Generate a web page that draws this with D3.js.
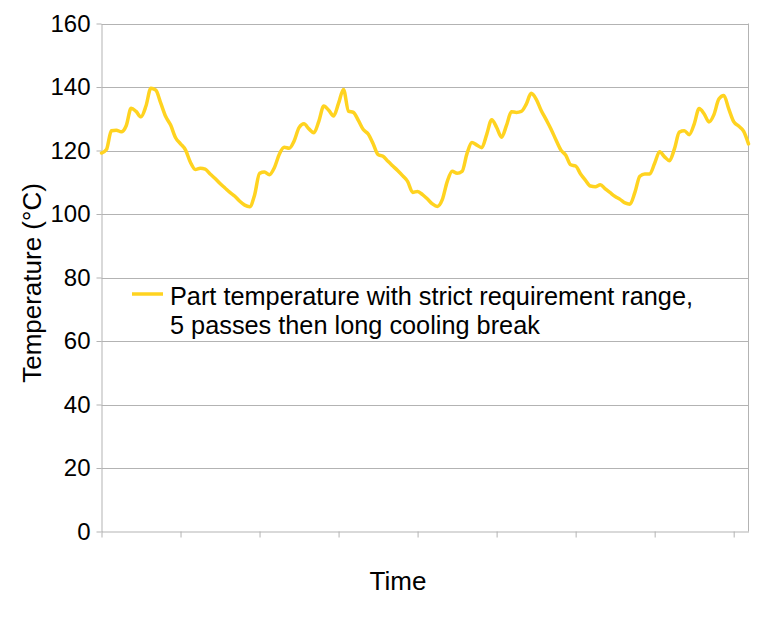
<!DOCTYPE html>
<html><head><meta charset="utf-8">
<script src="https://cdn.jsdelivr.net/npm/d3@7/dist/d3.min.js"></script>
<style>
html,body{margin:0;padding:0;background:#fff;}
svg{display:block;font-family:"Liberation Sans",Arial,sans-serif;}
</style></head>
<body>
<script>
// Data
const seriesName = ["Part temperature with strict requirement range,", "5 passes then long cooling break"];
const yTicks = [0, 20, 40, 60, 80, 100, 120, 140, 160];
const temperature = [
119.2,120.3,126.2,126.4,125.9,127.8,133.3,132.3,130.6,134.0,
139.6,139.0,134.9,130.7,128.0,124.0,122.1,120.2,116.3,114.0,
114.4,114.1,112.6,111.2,109.6,108.2,106.8,105.6,104.0,102.8,
102.3,106.0,112.8,113.2,112.4,114.6,118.8,121.0,120.7,123.0,
127.2,128.4,126.8,125.6,129.2,134.0,132.7,130.9,134.9,139.2,
132.4,132.0,129.5,126.6,125.2,122.1,118.7,118.2,116.6,115.1,
113.6,112.0,110.2,106.8,107.1,106.1,104.7,103.2,102.4,104.5,
110.2,113.5,112.8,113.4,119.0,122.5,121.7,120.9,125.1,129.7,
127.3,124.2,127.9,132.2,132.0,132.3,134.6,138.0,136.2,132.7,
129.8,126.8,123.4,120.2,118.5,115.5,115.1,112.6,110.6,108.8,
108.6,109.2,107.9,106.7,105.5,104.6,103.5,103.1,106.8,111.9,
112.6,112.6,116.0,119.6,118.0,116.8,120.5,125.8,126.2,125.0,
128.3,133.2,131.6,129.0,131.3,136.2,137.3,133.1,129.1,127.7,
126.1,122.1
];
const tickEvery = 16;
const time = temperature.map((d, i) => i);

const W = 768, H = 633;
const m = {left: 101.5, right: 19.5, top: 23.5, bottom: 101.5};
const svg = d3.select("body").append("svg").attr("width", W).attr("height", H);

const x = d3.scaleLinear().domain([0, time.length - 1]).range([m.left, W - m.right]);
const y = d3.scaleLinear().domain([0, 160]).range([H - m.bottom, m.top]);

const grid = "#b3b3b3";

// horizontal gridlines
svg.append("g").selectAll("line").data(yTicks.filter(v => v > 0)).join("line")
  .attr("x1", m.left).attr("x2", W - m.right)
  .attr("y1", d => Math.round(y(d)) + 0.5).attr("y2", d => Math.round(y(d)) + 0.5)
  .attr("stroke", grid).attr("stroke-width", 1);

// right border
svg.append("line").attr("x1", W - m.right).attr("x2", W - m.right)
  .attr("y1", y(160)).attr("y2", y(0)).attr("stroke", grid);

// Y axis
const yAxis = d3.axisLeft(y).tickValues(yTicks).tickSize(5).tickSizeOuter(0).tickPadding(6).tickFormat(d3.format("d"));
const gy = svg.append("g").attr("transform", `translate(${m.left},0)`).call(yAxis);
gy.select(".domain").attr("stroke", grid);
gy.selectAll(".tick line").attr("stroke", grid);
gy.selectAll(".tick text").attr("fill", "#000").style("font-size", "24px")
  .style("font-family", '"Liberation Sans",Arial,sans-serif');

// X axis
const xTickVals = time.filter(i => i % tickEvery === 0);
const xAxis = d3.axisBottom(x).tickValues(xTickVals).tickSize(6).tickSizeOuter(0).tickFormat("");
const gx = svg.append("g").attr("transform", `translate(0,${y(0)})`).call(xAxis);
gx.select(".domain").attr("stroke", grid);
gx.selectAll(".tick line").attr("stroke", grid);

// line
const line = d3.line().x((d, i) => x(time[i])).y(d => y(d)).curve(d3.curveMonotoneX);
svg.append("path").datum(temperature).attr("d", line)
  .attr("fill", "none").attr("stroke", "#ffd320").attr("stroke-width", 3.5)
  .attr("stroke-linejoin", "round").attr("stroke-linecap", "round");

// Axis titles
svg.append("text").attr("x", 398).attr("y", 590).attr("text-anchor", "middle")
  .style("font-size", "26px").text("Time");
svg.append("text").attr("transform", "translate(41,283) rotate(-90)").attr("text-anchor", "middle")
  .style("font-size", "26px").text("Temperature (°C)");

// Legend
svg.append("line").attr("x1", 132).attr("x2", 163).attr("y1", 294).attr("y2", 294)
  .attr("stroke", "#ffd320").attr("stroke-width", 3.5);
svg.append("text").attr("x", 170).attr("y", 305).style("font-size", "25.3px").text(seriesName[0]);
svg.append("text").attr("x", 170).attr("y", 334).style("font-size", "25.3px").text(seriesName[1]);
</script>
</body></html>
